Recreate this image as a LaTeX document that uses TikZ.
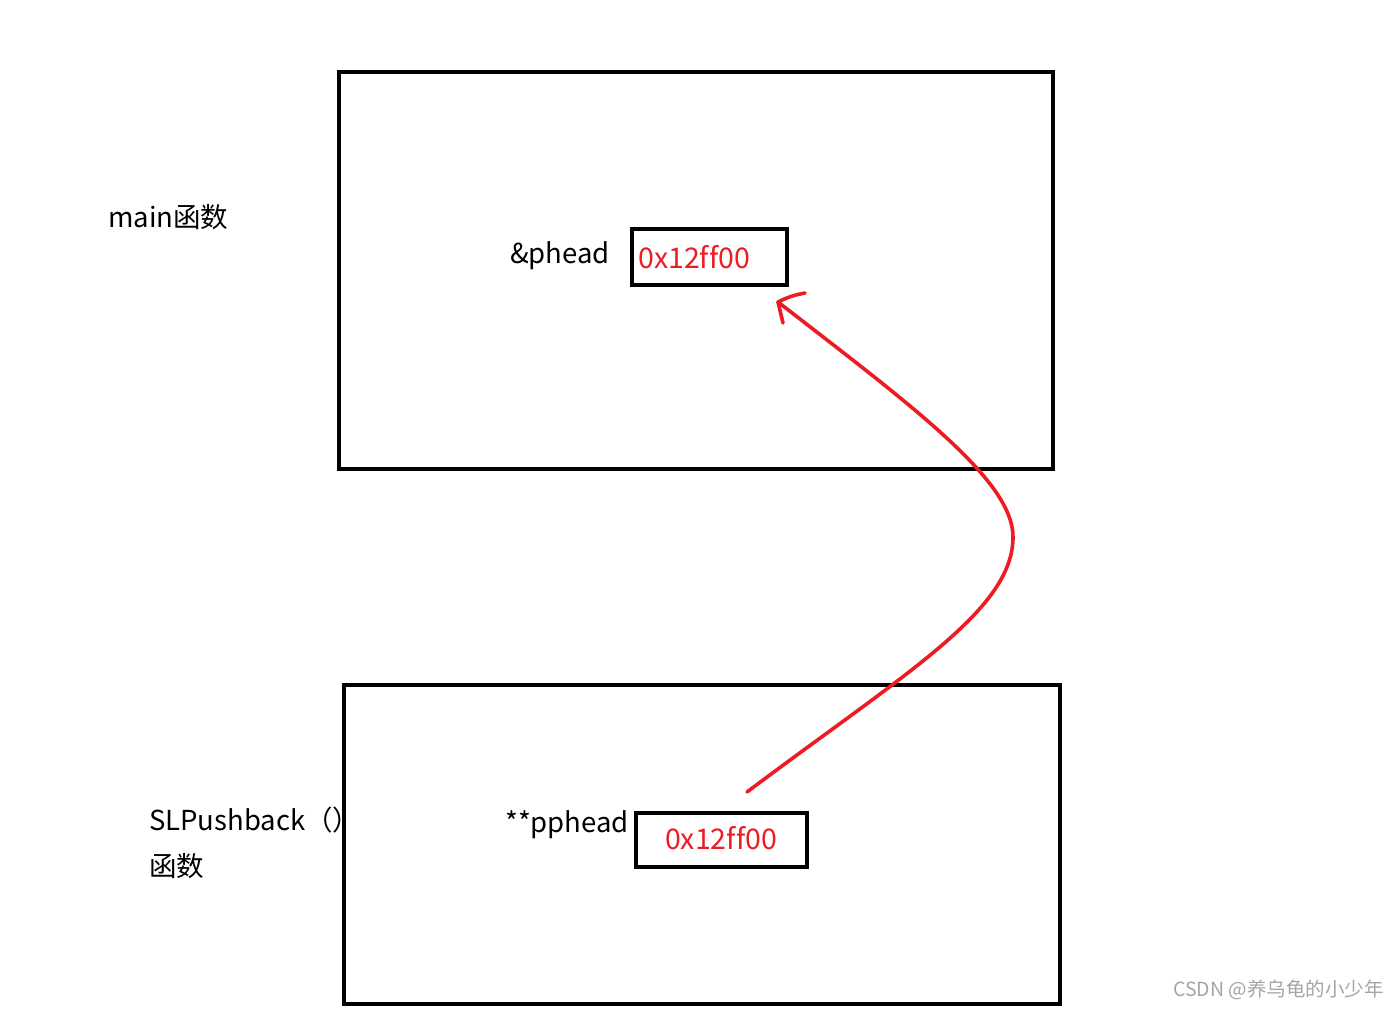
\documentclass[tikz,border=0pt]{standalone}
\usepackage{fontspec}
\setmainfont{Noto Sans CJK SC}[Ligatures=NoCommon]
\definecolor{penred}{RGB}{237,28,36}
\definecolor{wmgray}{RGB}{165,165,165}
\begin{document}
\begin{tikzpicture}[x=1pt,y=-1pt,
  frame/.style={draw=black,line width=4pt,inner sep=0pt,outer sep=0pt,anchor=north west},
  label/.style={anchor=west,inner sep=0pt,font=\fontsize{27.5}{32}\selectfont},
  addr/.style={anchor=west,inner sep=0pt,text=penred,font=\fontsize{28.5}{32}\selectfont},
  pen/.style={draw=penred,line width=3.6pt,line cap=round,line join=round}]
\useasboundingbox (0,0) rectangle (1400,1010);
\fill[white] (0,0) rectangle (1400,1010);
% main frame
\node[frame,minimum width=714pt,minimum height=397pt] (mainbox) at (339,72) {};
\node[frame,minimum width=155pt,minimum height=56pt] (topcell) at (632,229) {};
\node[addr] (topaddr) at (638,257) {0x12ff00};
\node[label] (phead) at (510,256) {\&phead};
\node[label] (mainlbl) at (108,217) {main函数};
% SLPushback frame
\node[frame,minimum width=716pt,minimum height=319pt] (pushbox) at (344,685) {};
\node[frame,minimum width=171pt,minimum height=54pt] (botcell) at (636,813) {};
\node[addr,anchor=center] (botaddr) at (721,838) {0x12ff00};
\node[label] (pphead) at (505,825) {**pphead};
\node[label] (fnlbl) at (149,820) {SLPushback（）};
\node[label] (fnlbl2) at (149,866) {函数};
% arrow
\coordinate (astart) at (747,792);
\coordinate (apeak) at (1013,537);
\coordinate (atip) at (778,302);
\draw[pen] (astart) .. controls (907,672) and (1013,610) .. (apeak)
                    .. controls (1013,480) and (912,406) .. (atip);
\draw[pen] (atip) to[bend left=8] ++(27,-9);
\draw[pen] (atip) -- ++(5,21);
% watermark
\node[anchor=east,inner sep=0pt,text=wmgray,font=\fontsize{19.5}{22}\selectfont] (wm) at (1384,990) {CSDN @养乌龟的小少年};
\end{tikzpicture}
\end{document}
